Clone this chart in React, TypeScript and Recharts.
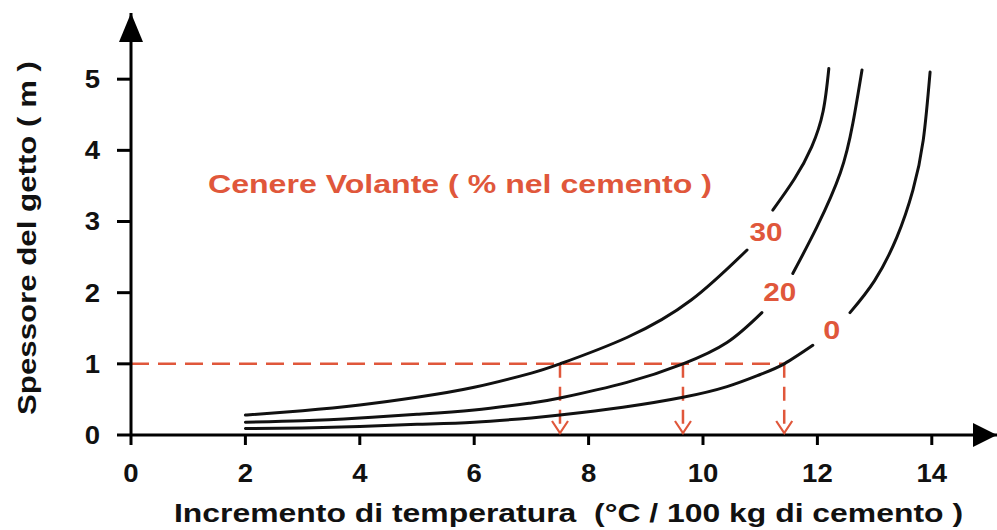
import React from 'react';
import { ComposedChart, Line, XAxis, YAxis, ReferenceLine, ReferenceDot } from 'recharts';

// Tick labels
const xTicks = [0, 2, 4, 6, 8, 10, 12, 14];
const yTicks = [0, 1, 2, 3, 4, 5];
const X_MAX = 15.14; // position of x-axis arrow tip
const Y_MAX = 5.93; // position of y-axis arrow tip

// Curve 30% fly ash (lower and upper segments around its label)
const ash30Lower = [
  { x: 2, y: 0.28 }, { x: 3, y: 0.34 }, { x: 4, y: 0.42 }, { x: 5, y: 0.53 },
  { x: 6, y: 0.67 }, { x: 7, y: 0.87 }, { x: 7.5, y: 1.0 }, { x: 8.67, y: 1.37 },
  { x: 9.8, y: 1.9 }, { x: 10.77, y: 2.6 },
];
const ash30Upper = [
  { x: 11.22, y: 3.16 }, { x: 11.6, y: 3.6 }, { x: 11.9, y: 4.05 },
  { x: 12.1, y: 4.55 }, { x: 12.2, y: 5.15 },
];
// Curve 20%
const ash20Lower = [
  { x: 2, y: 0.18 }, { x: 3, y: 0.2 }, { x: 4, y: 0.24 }, { x: 5, y: 0.29 },
  { x: 6, y: 0.35 }, { x: 7, y: 0.45 }, { x: 7.5, y: 0.52 }, { x: 8.67, y: 0.74 },
  { x: 9.65, y: 1.0 }, { x: 10.42, y: 1.3 }, { x: 11.03, y: 1.72 },
];
const ash20Upper = [
  { x: 11.57, y: 2.27 }, { x: 11.99, y: 2.92 }, { x: 12.4, y: 3.68 },
  { x: 12.62, y: 4.38 }, { x: 12.78, y: 5.13 },
];
// Curve 0%
const ash0Lower = [
  { x: 2, y: 0.09 }, { x: 3, y: 0.1 }, { x: 4, y: 0.12 }, { x: 5, y: 0.15 },
  { x: 6, y: 0.18 }, { x: 7, y: 0.24 }, { x: 7.5, y: 0.28 }, { x: 8.6, y: 0.39 },
  { x: 9.65, y: 0.53 }, { x: 10.42, y: 0.68 }, { x: 11.0, y: 0.85 }, { x: 11.42, y: 1.0 },
  { x: 11.92, y: 1.26 },
];
const ash0Upper = [
  { x: 12.57, y: 1.72 }, { x: 13.0, y: 2.17 }, { x: 13.39, y: 2.78 }, { x: 13.67, y: 3.44 },
  { x: 13.85, y: 4.14 }, { x: 13.97, y: 5.1 },
];

// Reading at 1 m thickness
const readingY = 1;
const readingXs = [7.5, 9.65, 11.42];

// Curve labels
const curveLabels = [
  { text: '30', x: 11.1, y: 2.85, len: 33 },
  { text: '20', x: 11.34, y: 2.01, len: 33 },
  { text: '0', x: 12.25, y: 1.48, len: 17 },
];

const RED = '#e0573b';
const INK = '#111';
const FONT = '"Liberation Sans", Arial, Helvetica, sans-serif';

const segments = [ash30Lower, ash30Upper, ash20Lower, ash20Upper, ash0Lower, ash0Upper];

const XTick = (props: any) => {
  const { x, y, payload } = props;
  return (
    <g transform={`translate(${x} ${y}) scale(1.1 1)`}>
      <text x={0} y={0} dy="0.71em" textAnchor="middle" fontSize={25} fontWeight="bold" fontFamily={FONT} fill={INK}>
        {payload.value}
      </text>
    </g>
  );
};

const YTick = (props: any) => {
  const { x, y, payload } = props;
  return (
    <g transform={`translate(${x} ${y}) scale(1.1 1)`}>
      <text x={0} y={0} dy="0.355em" textAnchor="end" fontSize={25} fontWeight="bold" fontFamily={FONT} fill={INK}>
        {payload.value}
      </text>
    </g>
  );
};

export default function App() {
  return (
    <div style={{ position: 'absolute', left: 0, top: 0, width: 997, height: 530, background: '#fff' }}>
      <ComposedChart width={997} height={530} margin={{ top: 13, right: 0, bottom: 0, left: 0 }}>
        <XAxis
          type="number"
          dataKey="x"
          domain={[0, X_MAX]}
          ticks={xTicks}
          allowDataOverflow
          height={95}
          tickSize={10}
          tickMargin={19}
          axisLine={{ stroke: '#000', strokeWidth: 3 }}
          tickLine={{ stroke: '#000', strokeWidth: 3 }}
          tick={XTick}
        />
        <YAxis
          type="number"
          domain={[0, Y_MAX]}
          ticks={yTicks}
          allowDataOverflow
          width={131}
          tickSize={14}
          tickMargin={17}
          axisLine={{ stroke: '#000', strokeWidth: 3 }}
          tickLine={{ stroke: '#000', strokeWidth: 3 }}
          tick={YTick}
        />
        <ReferenceLine
          segment={[{ x: 0, y: readingY }, { x: readingXs[readingXs.length - 1], y: readingY }]}
          stroke={RED}
          strokeWidth={2.5}
          strokeDasharray="18 9"
        />
        {readingXs.map((rx) => (
          <ReferenceLine
            key={'v' + rx}
            segment={[{ x: rx, y: readingY }, { x: rx, y: 0 }]}
            stroke={RED}
            strokeWidth={2.5}
            strokeDasharray="14 9"
          />
        ))}
        {readingXs.map((rx) => (
          <ReferenceDot
            key={'a' + rx}
            x={rx}
            y={0}
            ifOverflow="visible"
            shape={(p: any) => (
              <path
                d={`M${p.cx - 8} ${p.cy - 14} L${p.cx} ${p.cy - 2} L${p.cx + 8} ${p.cy - 14}`}
                fill="none"
                stroke={RED}
                strokeWidth={2.2}
              />
            )}
          />
        ))}
        {segments.map((seg, i) => (
          <Line
            key={'s' + i}
            data={seg}
            dataKey="y"
            type="natural"
            stroke={INK}
            strokeWidth={3}
            strokeLinecap="round"
            dot={false}
            activeDot={false}
            isAnimationActive={false}
          />
        ))}
        {curveLabels.map((l) => (
          <ReferenceDot
            key={'l' + l.text}
            x={l.x}
            y={l.y}
            ifOverflow="visible"
            shape={(p: any) => (
              <text
                x={p.cx}
                y={p.cy + 9}
                textAnchor="middle"
                fontSize={25}
                fontWeight="bold"
                fontFamily={FONT}
                fill={RED}
                textLength={l.len}
                lengthAdjust="spacingAndGlyphs"
              >
                {l.text}
              </text>
            )}
          />
        ))}
        {/* axis arrowheads */}
        <ReferenceDot
          x={0}
          y={Y_MAX}
          ifOverflow="visible"
          shape={(p: any) => (
            <path d={`M${p.cx} ${p.cy} L${p.cx + 12} ${p.cy + 29} L${p.cx - 12} ${p.cy + 29} Z`} fill="#000" />
          )}
        />
        <ReferenceDot
          x={X_MAX}
          y={0}
          ifOverflow="visible"
          shape={(p: any) => (
            <path d={`M${p.cx} ${p.cy} L${p.cx - 24} ${p.cy - 12} L${p.cx - 24} ${p.cy + 12} Z`} fill="#000" />
          )}
        />
      </ComposedChart>
      <svg width={997} height={530} style={{ position: 'absolute', left: 0, top: 0, pointerEvents: 'none' }}>
        <text
          x={208}
          y={193}
          fontSize={25}
          fontWeight="bold"
          fontFamily={FONT}
          fill={RED}
          textLength={504}
          lengthAdjust="spacingAndGlyphs"
        >
          Cenere Volante ( % nel cemento )
        </text>
        <text
          x={174}
          y={522}
          fontSize={25}
          fontWeight="bold"
          fontFamily={FONT}
          fill={INK}
          textLength={789}
          lengthAdjust="spacingAndGlyphs"
          style={{ whiteSpace: 'pre' }}
        >
          {'Incremento di temperatura  (°C / 100 kg di cemento )'}
        </text>
        <text
          transform="translate(36 238) rotate(-90)"
          x={0}
          y={0}
          textAnchor="middle"
          fontSize={25}
          fontWeight="bold"
          fontFamily={FONT}
          fill={INK}
          textLength={354}
          lengthAdjust="spacingAndGlyphs"
        >
          Spessore del getto ( m )
        </text>
      </svg>
    </div>
  );
}
